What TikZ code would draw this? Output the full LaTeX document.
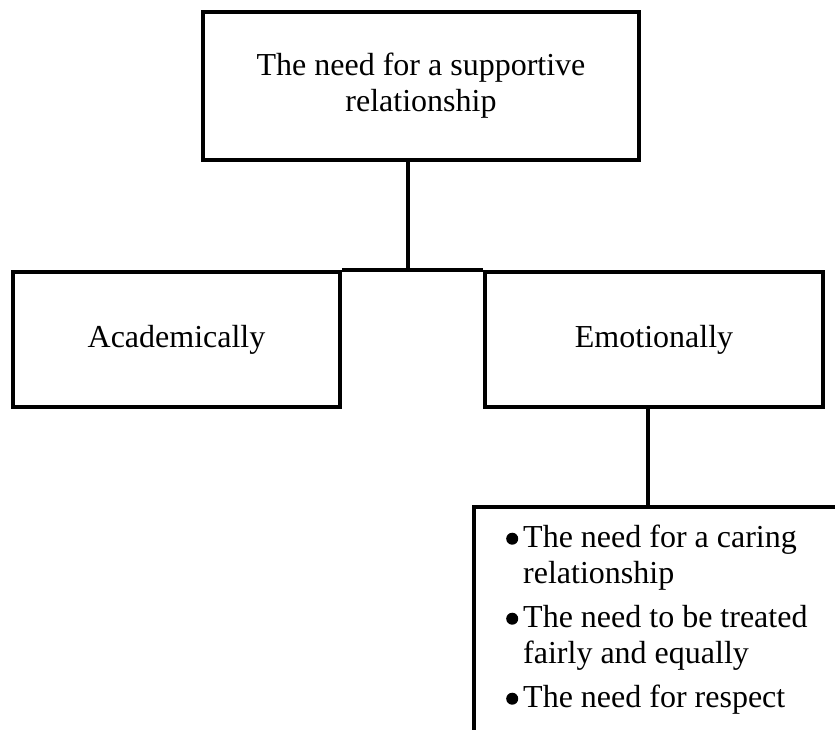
\documentclass[tikz,border=0pt]{standalone}
\usepackage{fontspec}
\setmainfont{Liberation Serif}
\usepackage{enumitem}
\usetikzlibrary{positioning}
\tikzset{
	box/.style   = {draw, rectangle, line width=4pt, align=center, draw=black, font=\fontsize{32}{36}\selectfont},
	link/.style  = {draw, line width=4pt},
	items/.style = {inner sep=0pt, text width=330pt, font=\fontsize{32}{36}\selectfont}
}
\newcommand{\listdot}{\tikz[baseline=-8.5pt] \fill (0,0) circle (6pt);}

\begin{document}
\begin{tikzpicture}[x=1pt, y=1pt]
	\useasboundingbox (0,0) rectangle (835,-729);
	\clip (0,0) rectangle (835,-729);
	\node (need) [box, minimum width=436pt, minimum height=148pt] at (421,-86) {The need for a supportive\\relationship};
	\node (acad) [box, minimum width=327pt, minimum height=135pt] at (176.5,-339.5) {Academically};
	\node (emot) [box, minimum width=338pt, minimum height=135pt, right=141pt of acad] {Emotionally};
	\node (list) [box, minimum width=420pt, minimum height=300pt, anchor=north west] at (472,-505) {};
	\node (listtxt) [items, anchor=north west] at (500,-511) {%
		\begin{itemize}[leftmargin=23pt, labelsep=5pt, itemsep=8pt, topsep=0pt, parsep=0pt, partopsep=0pt, label=\listdot, before={\raggedright\spaceskip 0pt\xspaceskip 0pt\relax}]
			\item The need for a caring\newline relationship
			\item The need to be treated\newline fairly and equally
			\item The need for respect
		\end{itemize}};

	\draw [link] ([xshift=-13pt]need.south) -- ([xshift=-13pt]need.south |- acad.north);
	\draw [link] (acad.north east) -- (emot.north west);
	\draw [link] ([xshift=-6pt]emot.south) -- ([xshift=-6pt]emot.south |- list.north);
\end{tikzpicture}
\end{document}
